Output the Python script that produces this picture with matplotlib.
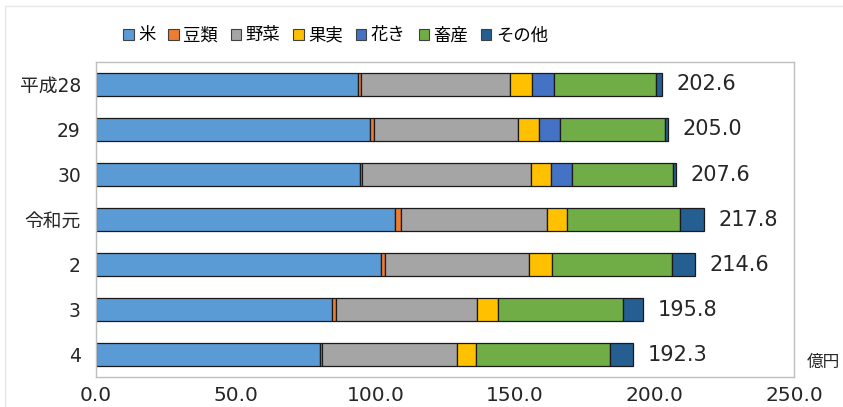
import matplotlib
matplotlib.use("Agg")
import matplotlib.pyplot as plt
from matplotlib.patches import Patch, Rectangle
import numpy as np

plt.rcParams['font.family'] = ['DejaVu Sans', 'Noto Sans CJK JP']

years = ["平成28", "29", "30", "令和元", "2", "3", "4"]
series_names = ["米", "豆類", "野菜", "果実", "花き", "畜産", "その他"]
colors = ["#5B9BD5", "#ED7D31", "#A5A5A5", "#FFC000", "#4472C4", "#70AD47", "#255E91"]

rice      = [93.7, 98.2, 94.5, 107.1, 102.0, 84.5, 80.2]
beans     = [1.2, 1.4, 0.8, 2.0, 1.5, 1.4, 0.8]
vegetable = [53.2, 51.6, 60.6, 52.3, 51.7, 50.5, 48.3]
fruit     = [8.1, 7.3, 7.2, 7.2, 8.1, 7.4, 6.7]
flowers   = [7.7, 7.8, 7.4, 0.0, 0.0, 0.0, 0.0]
livestock = [36.7, 37.3, 36.2, 40.6, 42.9, 44.8, 48.2]
other     = [2.0, 1.4, 0.9, 8.6, 8.4, 7.2, 8.1]
totals    = [202.6, 205.0, 207.6, 217.8, 214.6, 195.8, 192.3]

series = [rice, beans, vegetable, fruit, flowers, livestock, other]

fig = plt.figure(figsize=(8.43, 4.07), dpi=100)
fig.patches.append(Rectangle((0.006, -0.1), 1.2, 1.085, transform=fig.transFigure,
                             fill=False, edgecolor="#e6e6e6", linewidth=1.0))
ax = fig.add_axes([0.114, 0.073, 0.828, 0.775])

y = np.arange(len(years))
left = np.zeros(len(years))
for name, vals, c in zip(series_names, series, colors):
    vals = np.array(vals)
    mask = vals > 0
    ax.barh(y[mask], vals[mask], left=left[mask], height=0.52, color=c,
            edgecolor="#1a1a1a", linewidth=0.9, label=name)
    left += vals

for yi, tot in zip(y, totals):
    ax.text(tot + 5.2, yi, f"{tot:.1f}", va="center", ha="left", fontsize=15, color="#262626")

ax.set_xlim(0, 250)
ax.set_ylim(len(years) - 0.5, -0.5)
ax.set_yticks(y)
ax.set_yticklabels(years, fontsize=13.5, color="#262626")
ax.set_xticks([0, 50, 100, 150, 200, 250])
ax.set_xticklabels([f"{v:.1f}" for v in [0, 50, 100, 150, 200, 250]], fontsize=14.5, color="#262626")
ax.tick_params(axis="both", length=0)
ax.tick_params(axis="x", pad=6)
ax.tick_params(axis="y", pad=11)
for s in ax.spines.values():
    s.set_color("#bfbfbf")
    s.set_linewidth(1.0)

fig.text(0.957, 0.111, "億円", fontsize=12, color="#262626", ha="left", va="center")

handles = [Patch(facecolor=c, edgecolor="#404040", linewidth=0.8) for c in colors]
fig.legend(handles, series_names, loc="center left", bbox_to_anchor=(0.138, 0.913),
           ncol=7, frameon=False, fontsize=12.5, handlelength=0.6, handleheight=0.6,
           handletextpad=0.25, columnspacing=0.75, borderaxespad=0)

fig.savefig("out.png", dpi=100, facecolor="white")
